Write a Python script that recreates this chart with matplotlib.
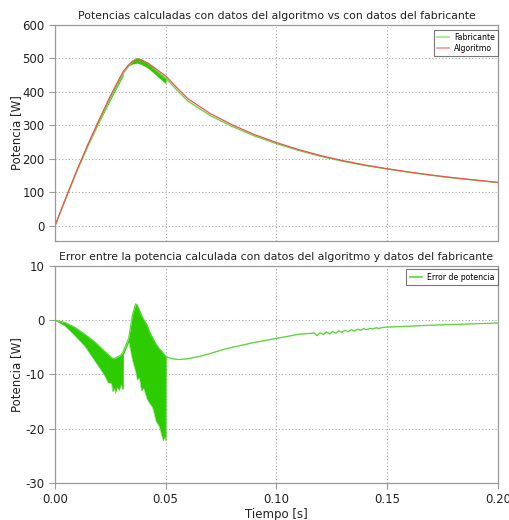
import matplotlib
matplotlib.use("Agg")
import matplotlib.pyplot as plt
import numpy as np

# ---------------- data ----------------
t_top = [0, 0.005, 0.01, 0.015, 0.02, 0.025, 0.0308, 0.0309, 0.0333, 0.035, 0.037,
         0.039, 0.042, 0.045, 0.048, 0.0501, 0.0502, 0.055, 0.06, 0.07, 0.08, 0.09,
         0.1, 0.11, 0.12, 0.13, 0.14, 0.15, 0.16, 0.17, 0.18, 0.19, 0.2]
algoritmo = [0, 85, 168, 245, 318, 388, 461, 462, 481, 491, 497,
             495, 486, 472, 457, 447, 446.5, 413, 380, 336, 302, 273,
             249, 228, 210, 195, 182, 171, 161, 152, 144, 137, 130]
fabricante_hi = [0, 84.5, 166.6, 242.5, 314.0, 381.5, 455.2, 456.3, 477.7, 492, 499.8,
                 496, 484.4, 467.8, 451.4, 440.3, 439.75, 405.8, 372.9, 329.85, 297, 268.9,
                 245.65, 225.4, 207.7, 193.1, 180.4, 169.7, 159.9, 151.1, 143.2, 136.35, 129.5]
fabricante_lo = [0, 83.8, 164.8, 239.5, 309.5, 375.5, 448.4, 455.7, 477.0, 483.5, 486,
                 482.2, 471, 454, 436, 424.7, 439.75, 405.8, 372.9, 329.85, 297, 268.9,
                 245.65, 225.4, 207.7, 193.1, 180.4, 169.7, 159.9, 151.1, 143.2, 136.35, 129.5]

t_err = [0, 0.0044, 0.0089, 0.0135, 0.018, 0.0221, 0.024, 0.0255, 0.026, 0.0268,
         0.0273, 0.028, 0.029, 0.0298, 0.0305, 0.0308, 0.0309, 0.0333, 0.035, 0.0364,
         0.0371, 0.038, 0.039, 0.040, 0.0415, 0.043, 0.044, 0.0455, 0.047, 0.048,
         0.0488, 0.0495, 0.0501, 0.0502, 0.053, 0.056, 0.06, 0.065, 0.07, 0.076,
         0.08, 0.09, 0.1, 0.11, 0.117, 0.1184, 0.1198, 0.1212, 0.1226, 0.124,
         0.1254, 0.1268, 0.1282, 0.1296, 0.131, 0.1324, 0.1338, 0.1352, 0.1366, 0.138,
         0.1394, 0.1408, 0.1422, 0.1436, 0.145, 0.1464, 0.148, 0.15, 0.16, 0.17,
         0.18, 0.19, 0.2]
err_hi = [0, -0.4, -1.3, -2.6, -4.0, -5.6, -6.3, -6.9, -7.0, -7.1,
          -7.0, -6.8, -6.6, -6.4, -6.0, -5.8, -5.7, -3.3, 1.0, 3.0,
          2.8, 2.0, 1.0, 0.2, -0.8, -2.4, -3.1, -4.3, -5.2, -5.6,
          -6.0, -6.4, -6.7, -6.75, -7.1, -7.25, -7.1, -6.7, -6.15, -5.4,
          -5.0, -4.1, -3.35, -2.6, -2.35, -2.85, -2.3, -2.65, -2.15, -2.55,
          -2.05, -2.4, -1.95, -2.25, -1.85, -2.1, -1.75, -2.0, -1.65, -1.85,
          -1.55, -1.75, -1.5, -1.6, -1.4, -1.5, -1.33, -1.27, -1.1, -0.92,
          -0.78, -0.65, -0.52]
err_lo = [0, -1.0, -2.8, -4.8, -7.5, -10.0, -11.5, -11.6, -13.2, -12.5,
          -13.5, -12.3, -12.9, -11.8, -12.8, -12.6, -6.3, -4.0, -7.5, -9.5,
          -11.0, -10.5, -13.0, -12.5, -14.5, -15.5, -16.0, -18.5, -19.5, -21.0,
          -22.2, -21.5, -22.3, -6.75, -7.1, -7.25, -7.1, -6.7, -6.15, -5.4,
          -5.0, -4.1, -3.35, -2.6, -2.35, -2.85, -2.3, -2.65, -2.15, -2.55,
          -2.05, -2.4, -1.95, -2.25, -1.85, -2.1, -1.75, -2.0, -1.65, -1.85,
          -1.55, -1.75, -1.5, -1.6, -1.4, -1.5, -1.33, -1.27, -1.1, -0.92,
          -0.78, -0.65, -0.52]

x_ticks = [0.0, 0.05, 0.10, 0.15, 0.20]
x_labels = ["0.00", "0.05", "0.10", "0.15", "0.20"]
y_top_ticks = [0, 100, 200, 300, 400, 500, 600]
y_bot_ticks = [-30, -20, -10, 0, 10]

# ---------------- style ----------------
FONT = "DejaVu Sans"
plt.rcParams["font.family"] = FONT
plt.rcParams["axes.unicode_minus"] = False
TXT = "#222222"
SPINE = "#9a9a9a"
GRID = "#a8a8a8"
GREEN_BAND = "#2ccc00"
GREEN_LINE = "#5ad83a"
RED_LINE = "#f25050"

fig = plt.figure(figsize=(5.09, 5.20), dpi=100)
ax1 = fig.add_axes([0.108, 0.5365, 0.870, 0.4155])
ax2 = fig.add_axes([0.108, 0.0712, 0.870, 0.4173])


def style(ax):
    for s in ax.spines.values():
        s.set_color(SPINE)
        s.set_linewidth(0.9)
    ax.tick_params(colors=SPINE, labelcolor=TXT, labelsize=8.5, length=4, width=0.8)
    ax.grid(True, color=GRID, linestyle=(0, (1, 2)), linewidth=0.8)
    ax.set_axisbelow(True)
    ax.set_xlim(0, 0.2)
    ax.set_xticks(x_ticks)


def style_legend(leg):
    fr = leg.get_frame()
    fr.set_edgecolor("#555555")
    fr.set_linewidth(0.8)


# top
style(ax1)
ax1.fill_between(t_top, fabricante_lo, fabricante_hi, color=GREEN_BAND, lw=0)
ax1.plot(t_top, fabricante_hi, color=GREEN_LINE, lw=0.9, label="Fabricante")
ax1.plot(t_top, algoritmo, color=RED_LINE, lw=0.9, label="Algoritmo")
ax1.set_ylim(-45, 600)
ax1.set_yticks(y_top_ticks)
ax1.set_xticklabels([])
ax1.tick_params(axis="x", length=0)
ax1.set_ylabel("Potencia [W]", fontsize=8.5, color=TXT)
ax1.yaxis.set_label_coords(-0.071, 0.5)
ax1.set_title("Potencias calculadas con datos del algoritmo vs con datos del fabricante",
              fontsize=7.8, color=TXT, pad=4)
leg1 = ax1.legend(loc="upper right", fontsize=5.6, frameon=True, fancybox=False,
                  handlelength=1.6, handletextpad=0.6, borderpad=0.4, labelspacing=0.25,
                  borderaxespad=0, bbox_to_anchor=(1.0, 0.978))
style_legend(leg1)
for h in leg1.get_lines():
    h.set_alpha(0.55)
    h.set_linewidth(1.3)

# bottom
style(ax2)
ax2.fill_between(t_err, err_lo, err_hi, color=GREEN_BAND, lw=0)
ax2.plot(t_err, err_lo, color=GREEN_LINE, lw=0.5, alpha=0.6)
ax2.plot(t_err, err_hi, color=GREEN_LINE, lw=0.9, label="Error de potencia")
ax2.set_ylim(-30, 10)
ax2.set_yticks(y_bot_ticks)
ax2.set_xticklabels(x_labels)
ax2.set_ylabel("Potencia [W]", fontsize=8.5, color=TXT)
ax2.yaxis.set_label_coords(-0.071, 0.5)
ax2.set_xlabel("Tiempo [s]", fontsize=8.5, color=TXT, labelpad=1)
ax2.set_title("Error entre la potencia calculada con datos del algoritmo y datos del fabricante",
              fontsize=7.8, color=TXT, pad=4)
leg2 = ax2.legend(loc="upper right", fontsize=5.6, frameon=True, fancybox=False,
                  handlelength=1.6, handletextpad=0.6, borderpad=0.45,
                  borderaxespad=0, bbox_to_anchor=(1.0, 0.985))
style_legend(leg2)
for h in leg2.get_lines():
    h.set_linewidth(1.2)

fig.savefig("out.png", dpi=100)
